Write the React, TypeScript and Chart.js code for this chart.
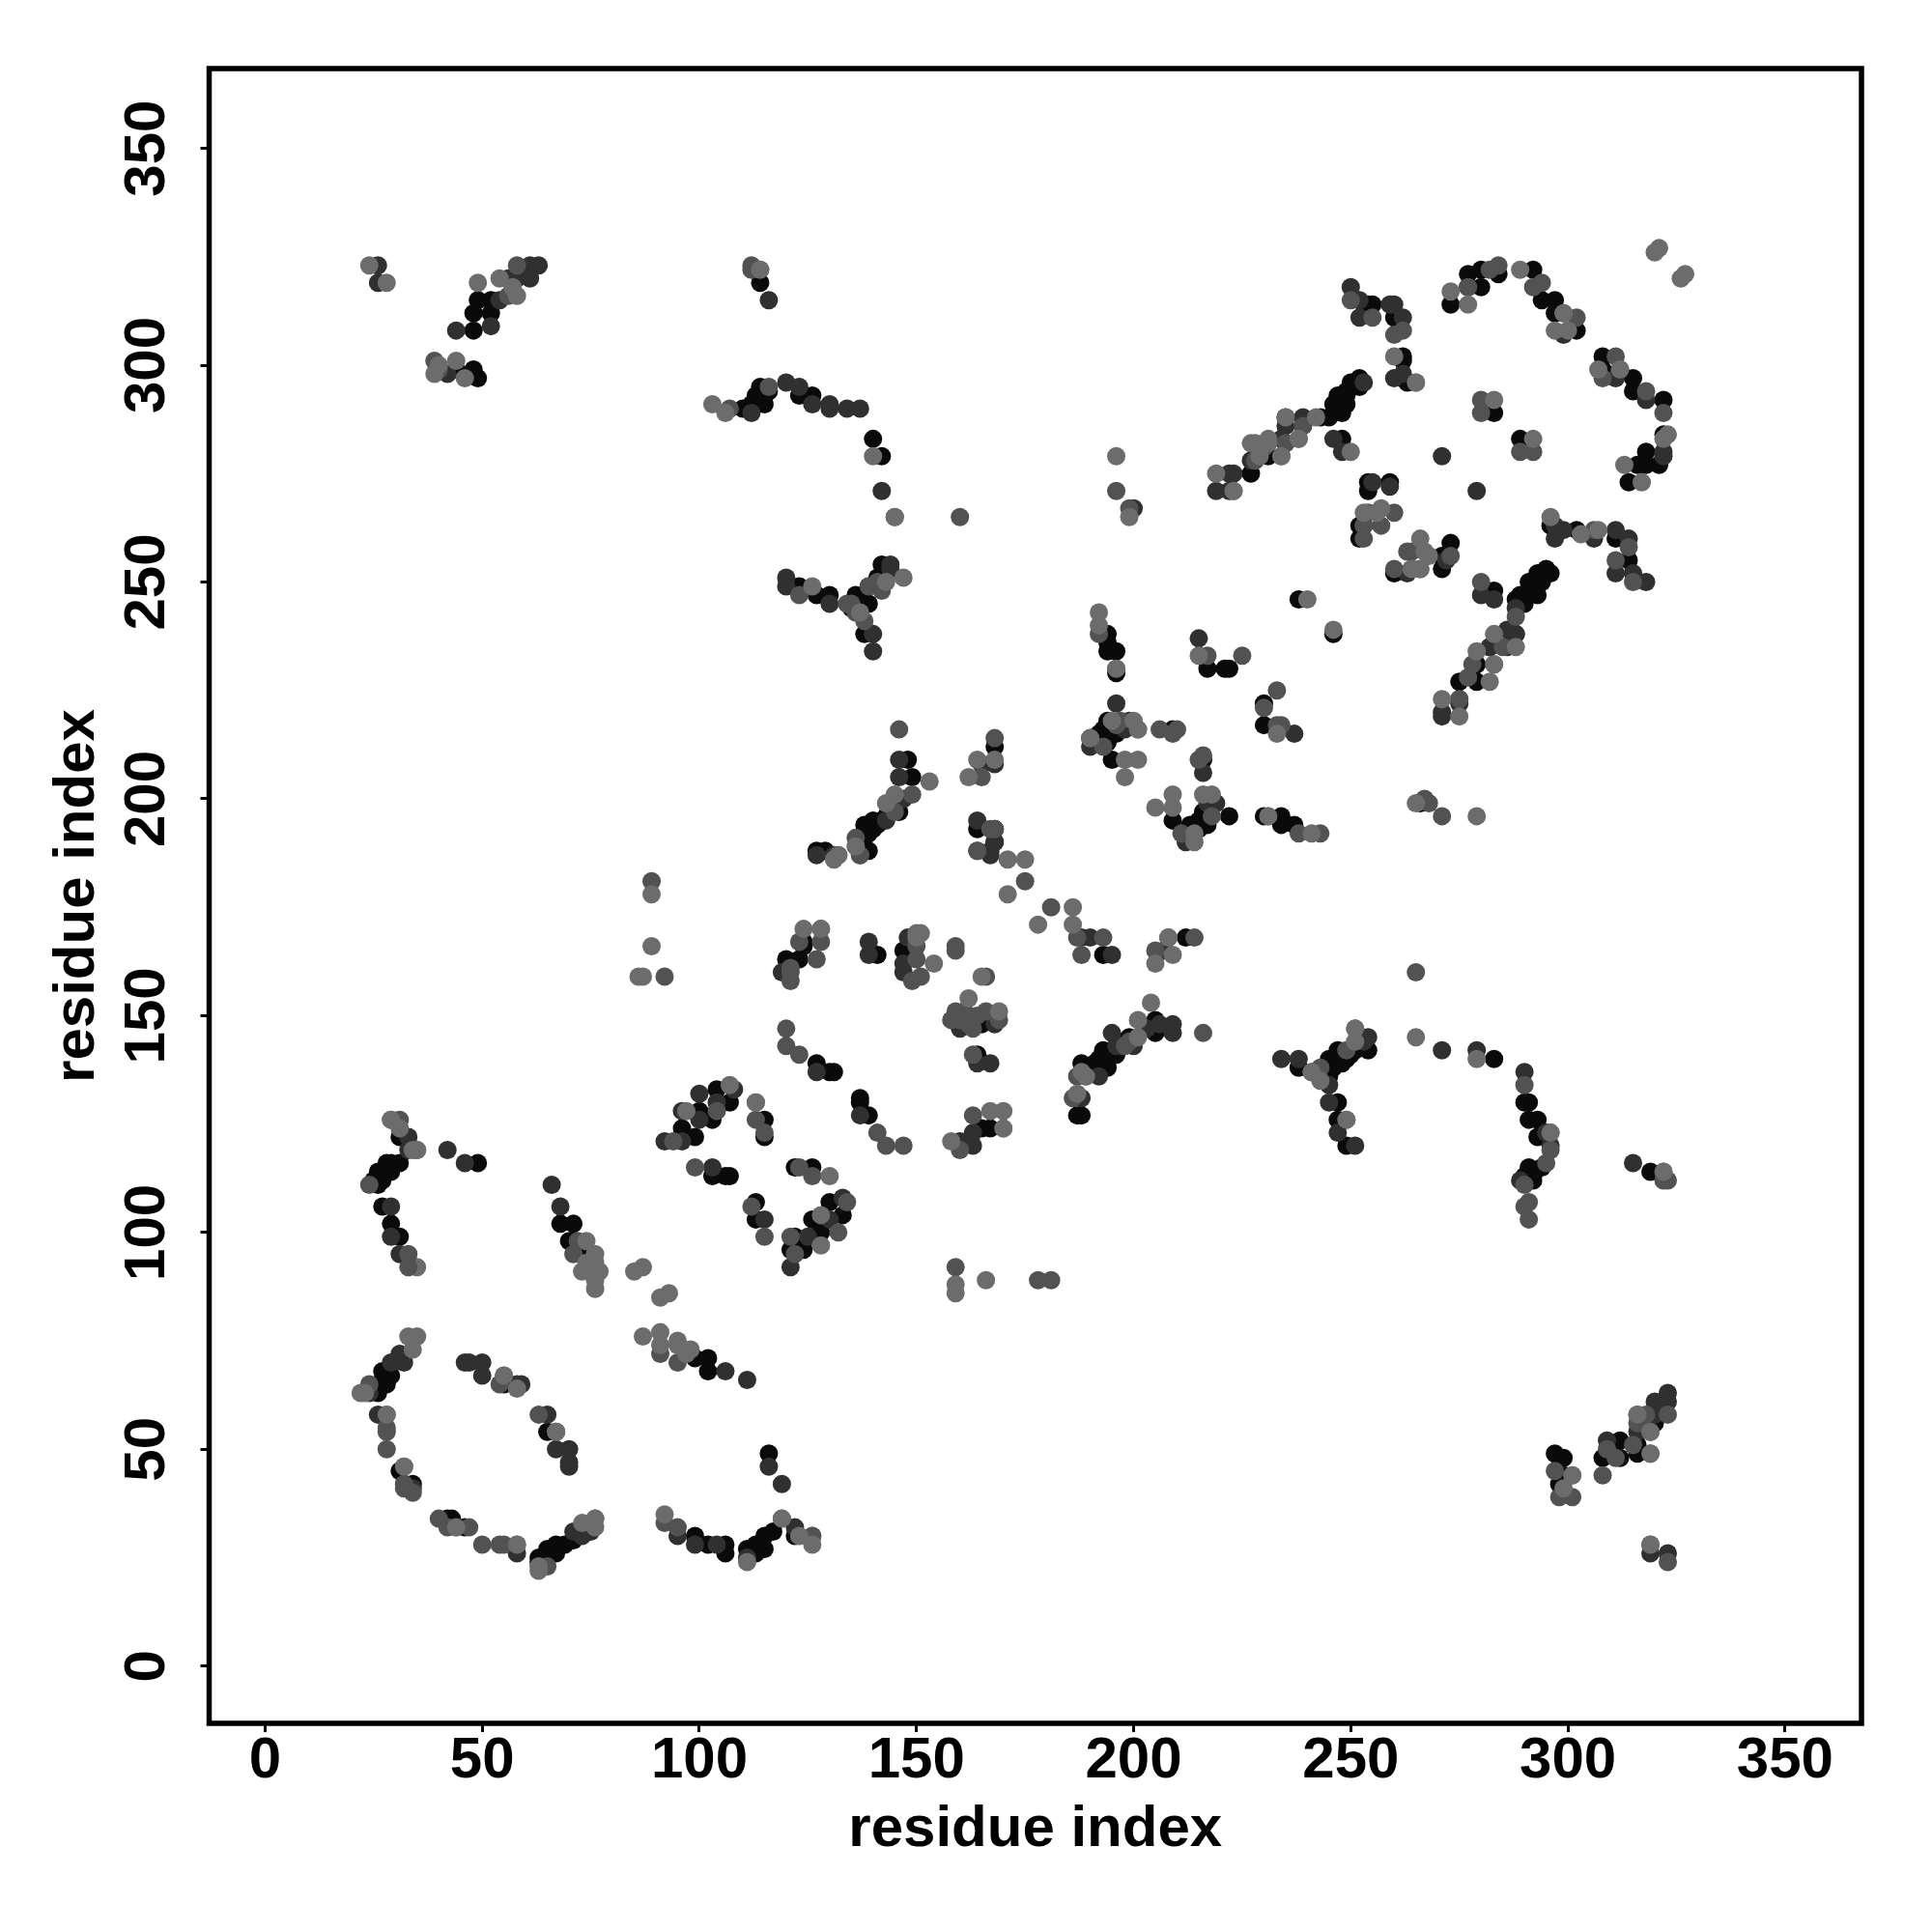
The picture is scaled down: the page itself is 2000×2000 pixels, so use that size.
import React, { useEffect, useRef } from "react";
import { Chart, registerables } from "chart.js";

Chart.register(...registerables);

type P = [number, number];

const tickValues = [0, 50, 100, 150, 200, 250, 300, 350];
const axisTitle = "residue index";

const pointsLight: P[] = [
[29,126],[31,124],[35,119],[34,119],[74,98],[76,95],[73,91],[75,91],[77,91],[76,87],[76,89],[74,93],[76,93],[85,91],[87,92],[91,85],[93,86],
[35,76],[33,76],[34,73],[22,63],[23,63],[32,46],[44,32],[58,28],[63,22],[63,23],[73,33],[76,34],[76,32],[111,24],[92,35],[119,34],[123,30],[126,28],
[87,76],[91,77],[91,74],[95,75],[95,74],[98,73],[97,72],[55,67],[58,64],[67,54],[28,58],
[89,178],[89,166],[86,159],[87,159],[132,187],[131,186],[171,186],[175,186],[171,178],[186,175],[178,171],[186,171],
[124,170],[128,170],[150,169],[151,169],[150,168],[154,162],[165,159],[162,154],[169,151],[187,132],[189,136],[188,137],[167,128],[170,128],[170,124],[158,121],[107,134],[97,128],[113,130],[128,104],[128,97],[130,113],[166,89],[159,88],[159,86],
[192,243],[192,240],[196,279],[199,265],[240,246],[246,239],
[196,230],[215,233],[190,214],[195,218],[200,218],[201,216],[198,209],[201,209],[198,205],[205,198],[209,201],[209,198],[216,201],[218,201],[214,192],[214,190],[231,196],[233,215],[241,192],[265,199],[279,196],[205,162],[209,164],[208,168],[204,153],[201,149],[201,145],[265,145],[279,140],[241,137],[243,135],[251,147],[251,144],[249,126],[296,123],
[271,223],[275,219],[282,227],[283,231],[279,234],[283,238],[288,235],[238,283],[235,288],
[320,326],[321,327],[326,320],[327,321],[265,296],[260,302],[277,314],[289,322],[273,317],[299,312],[297,308],[300,308],[307,299],[312,299],[323,284],[322,283],[313,277],[317,273],[283,292],[292,283],[253,266],[257,267],[256,266],[266,260],[267,257],[266,253],[264,253],[268,256],[296,265],[303,261],[307,262],
[219,275],[223,271],[227,282],[228,282],[231,283],[231,282],[234,279],[242,288],[229,279],
[24,323],[28,319],[49,319],[54,320],[57,318],[58,316],[44,301],[39,298],[40,300],[46,297],[114,322],[103,291],[106,289],[126,249],[145,265],[140,279],[143,250],[147,251],[137,243],
[153,204],[145,201],[143,199],[136,189],[164,209],[168,209],[162,205],
[301,44],[299,41],[319,49],[316,58],[319,54],[319,28],[322,114],[250,280],
];

const pointsMid: P[] = [
[31,126],[33,95],[33,92],[72,98],[71,95],[24,65],[28,54],[28,55],[28,50],[32,42],[34,40],[32,41],[40,34],[42,32],[47,32],[50,28],[54,28],[55,28],[65,23],[92,33],[95,32],[126,30],[91,72],[95,70],[63,58],[67,54],[24,111],[54,65],
[89,181],[92,159],[137,187],[164,188],[168,193],[175,181],[181,175],[123,167],[128,167],[127,163],[121,161],[121,158],[121,160],
[150,166],[150,163],[151,159],[149,158],[159,166],[159,165],[166,159],[159,151],[158,149],[160,149],[161,151],[166,151],[169,149],[162,148],[163,147],[163,141],[120,147],[120,143],[123,141],[141,123],[143,120],[147,120],[163,127],[160,119],[187,136],[186,131],
[94,121],[104,128],[113,126],[115,123],[99,115],[123,115],[126,113],[112,106],[134,107],[132,100],[122,95],[121,99],[115,99],[159,92],[178,89],[181,89],[160,265],[196,271],[199,267],[198,143],[162,150],[164,150],
[192,238],[217,233],[225,233],[233,225],[230,221],[233,217],[234,217],[190,214],[196,217],[197,218],[193,212],[206,216],[210,216],[209,215],[216,210],[215,209],[218,196],[211,192],[238,192],[243,192],[268,199],[267,200],[271,196],[187,168],[193,168],[188,164],[205,165],[208,168],[214,168],[216,146],[199,144],[265,160],[241,137],[243,138],[249,142],[290,134],[296,119],[295,116],[291,107],[290,106],[291,103],[290,111],
[275,223],[285,235],[278,231],[250,315],[255,311],[262,308],[260,307],[277,318],[282,322],[284,323],[292,318],[294,319],[302,311],[311,302],[308,297],[318,294],[322,289],[280,292],[280,289],[289,280],[292,280],[260,266],[254,266],[257,263],[253,260],[263,257],[260,253],[264,257],[273,256],[280,250],[306,262],[314,258],[311,255],[315,250],[288,242],[277,228],
[228,278],[230,281],[235,282],[239,286],[253,263],
[58,323],[56,316],[39,301],[40,299],[112,323],[112,322],[107,290],[116,295],[123,247],[136,243],[134,245],[138,241],[139,249],[141,250],[142,248],[135,245],
[146,216],[149,201],[145,197],[136,191],[137,187],[168,214],[165,205],[164,188],[167,193],
[297,45],[298,39],[301,39],[309,50],[311,48],[308,44],[315,51],[316,56],[318,58],[323,58],[323,24],[322,112],[323,112],
];

const pointsDark: P[] = [
[33,122],[33,119],[42,119],[46,116],[68,106],[66,111],[29,106],[29,99],[31,95],[31,72],[29,70],[32,70],[26,58],[34,41],[58,26],[73,30],[75,31],[71,31],[95,30],[99,28],[104,28],[111,25],[116,46],[119,42],[122,32],[106,68],[111,66],[46,70],[47,70],[50,70],[50,67],[58,65],[59,65],[65,58],[67,50],[70,50],[70,46],[70,47],[24,63],
[127,187],[131,187],[167,188],[168,193],[119,160],[139,167],[139,164],[148,168],[147,162],[147,160],[160,147],[168,148],[164,139],[167,139],[127,137],[137,127],[163,123],[163,120],[160,121],[162,121],[188,131],
[108,133],[100,132],[104,130],[96,128],[100,126],[96,121],[92,121],[103,115],[115,103],[133,108],[130,103],[125,99],[121,92],[200,267],[200,143],[197,143],[203,147],[206,148],
[215,237],[196,222],[190,212],[199,218],[198,216],[216,206],[219,199],[217,199],[212,190],[237,215],[188,168],[190,168],[195,164],[207,165],[209,148],[209,146],[195,146],[196,143],[192,136],[271,142],[279,142],[234,140],[238,140],[253,144],[254,145],[245,134],[245,130],[247,123],[251,120],[290,137],
[271,219],[275,222],[282,235],[288,238],[250,318],[252,315],[252,311],[259,314],[260,314],[262,311],[262,298],[260,297],[299,307],[311,297],[318,292],[322,280],[322,279],[271,279],[279,271],[253,296],[235,286],[239,288],[235,288],[234,283],[246,283],[248,280],[255,273],[259,272],[253,263],[272,255],[263,252],[280,247],[283,246],[297,263],[297,260],[299,262],[306,260],[311,262],[314,260],[311,252],[315,252],[318,250],[288,244],[288,238],[286,239],[286,235],[282,235],[275,223],[271,220],
[219,271],[222,275],[223,275],[222,271],[227,278],[235,282],[239,286],
[26,323],[26,319],[61,323],[63,323],[61,320],[58,320],[56,320],[44,308],[52,309],[54,315],[42,298],[116,315],[112,289],[120,296],[123,295],[126,291],[130,291],[130,290],[134,290],[137,290],[142,271],[120,251],[120,249],[130,245],[140,238],[140,234],[144,254],[144,253],
[146,209],[146,205],[146,200],[143,195],[165,208],[168,208],[164,195],[168,193],[168,190],[167,187],[145,199],[147,200],
[309,52],[316,54],[320,58],[320,61],[323,63],[323,61],[319,26],[323,26],[295,123],[296,120],[289,112],[315,116],
];

const pointsBlack: P[] = [
[31,122],[31,116],[29,116],[28,116],[27,114],[26,114],[29,114],[27,112],[25,112],[26,111],[49,116],[27,106],[29,102],[31,99],[68,102],[71,102],[70,98],[71,98],[73,95],
[27,68],[29,67],[26,65],[27,65],[28,65],[26,63],[34,42],[31,45],[42,34],[43,34],[46,32],[63,25],[63,24],[65,25],[67,26],[65,27],[69,28],[67,28],[71,29],[73,32],[99,30],[102,28],[106,28],[106,26],[111,27],[113,26],[115,27],[113,28],[115,30],[117,31],[116,49],[122,30],[99,71],[102,71],[102,68],[55,65],[65,54],
[127,188],[129,188],[139,188],[168,190],[124,167],[124,166],[123,163],[120,163],[141,164],[147,165],[165,148],[163,148],[164,141],[127,139],[130,137],[131,137],[137,131],[137,130],[139,127],[167,124],[165,124],[188,139],[187,127],[188,127],[104,133],[107,130],[100,128],[103,126],[96,124],[99,122],[115,126],[115,122],[103,113],[106,113],[107,113],[122,115],[126,115],[113,107],[113,103],[130,107],[133,104],[126,103],[128,100],[122,99],[124,96],[121,96],
[190,138],[191,139],[192,140],[193,142],[195,142],[197,144],[238,246],[246,238],
[194,238],[194,236],[194,234],[196,234],[196,229],[217,230],[221,230],[222,230],[230,222],[230,217],[193,214],[193,216],[195,215],[194,218],[195,209],[209,216],[216,209],[209,195],[216,197],[222,196],[215,195],[213,194],[217,194],[212,192],[215,193],[230,196],[234,196],[234,194],[237,194],[266,199],[193,164],[205,146],[205,149],[212,168],[199,145],[193,141],[196,141],[194,141],[194,138],[192,138],[238,138],[245,140],[245,138],[245,136],[247,140],[247,142],[251,142],[254,142],[249,140],[247,130],[247,126],[249,120],[291,130],[290,130],[291,126],[293,126],
[246,138],[248,139],[248,141],[250,141],[252,143],[194,213],[196,215],[192,215],
[254,314],[255,314],[260,311],[262,302],[262,301],[263,296],[273,314],[277,321],[280,322],[277,318],[280,318],[284,321],[292,322],[294,315],[297,315],[297,312],[302,308],[308,302],[308,299],[315,297],[315,294],[322,292],[322,284],[318,280],[318,277],[321,277],[316,277],[314,273],[283,289],[289,283],[252,297],[250,296],[249,294],[252,295],[247,293],[249,293],[246,291],[249,291],[245,288],[248,289],[243,288],[231,279],[227,275],[248,283],[254,273],[259,273],[254,271],[252,260],[252,263],[273,259],[271,256],[271,253],[260,252],[283,248],[296,263],[302,262],[311,260],[314,255],[296,252],[295,253],[293,252],[291,250],[294,250],[289,247],[291,247],[293,247],[288,246],[290,245],[279,231],[279,227],[275,227],
[49,315],[52,315],[48,312],[52,312],[48,308],[48,299],[49,297],[44,299],[114,319],[112,291],[114,295],[114,292],[115,291],[110,290],[111,290],[113,291],[113,293],[115,293],[116,294],[123,293],[126,293],[140,283],[142,279],[123,249],[127,247],[130,247],[138,238],[136,247],[139,249],[141,251],[142,254],[139,245],[137,246],[135,244],
[148,209],[149,205],[146,197],[140,195],[140,193],[138,194],[138,191],[168,212],[164,193],[141,194],[142,195],[143,196],[144,197],[139,192],[137,190],
[297,49],[299,48],[299,44],[298,42],[308,48],[312,52],[312,48],[316,49],[316,51],[320,56],
[293,122],[294,115],[291,115],[292,113],[290,113],[292,112],[319,114],[283,140],
];

const pointsLightTop: P[] = [
[29,126],[35,119],[35,92],[28,58],[32,46],[58,28],[55,67],[67,54],[76,34],[119,34],[126,30],[44,32],[132,187],[76,91],[128,170],[150,168],[196,230],[201,216],[283,231],[296,123],[299,312],[312,299],[189,136],[188,137],[113,130],[170,124],[251,147],[249,126],[214,192],[231,196],[114,322],[145,265],[301,44],[319,49],[316,58],[319,54],[319,28],[322,114],
[266,253],[264,253],[265,296],[238,283],[234,279],[231,282],[223,271],
];

const seriesList: [string, P[]][] = [
  ["#6c6c6c", pointsLight],
  ["#525252", pointsMid],
  ["#303030", pointsDark],
  ["#0a0a0a", pointsBlack],
  ["#6c6c6c", pointsLightTop],
];

const FONT = "'Liberation Sans', Arial, sans-serif";

const boxPlugin = {
  id: "box",
  afterDatasetsDraw(chart: any) {
    const { ctx, chartArea: a } = chart;
    ctx.save();
    ctx.strokeStyle = "#000";
    ctx.lineWidth = 5.5;
    ctx.strokeRect(a.left, a.top, a.right - a.left, a.bottom - a.top);
    ctx.restore();
  },
};

export default function App() {
  const ref = useRef<HTMLCanvasElement>(null);
  useEffect(() => {
    const setTicks = (s: any) => {
      s.ticks = tickValues.map((value) => ({ value }));
    };
    const chart = new Chart(ref.current!, {
      type: "scatter",
      data: {
        datasets: seriesList.map(([color, pts]) => ({
          data: pts.map(([x, y]) => ({ x, y })),
          backgroundColor: color,
          borderWidth: 0,
          pointRadius: 9.5,
          pointHoverRadius: 9.5,
        })),
      },
      options: {
        responsive: false,
        animation: false,
        devicePixelRatio: 1,
        layout: { padding: { left: 0, top: 71, right: 73, bottom: 0 } },
        plugins: { legend: { display: false }, tooltip: { enabled: false } },
        scales: {
          x: {
            type: "linear",
            min: -12.88,
            max: 367.6,
            afterBuildTicks: setTicks,
            afterFit: (s: any) => { s.height = 216; },
            border: { display: false },
            grid: { drawOnChartArea: false, drawTicks: true, tickLength: 9, tickWidth: 3, tickColor: "#000" },
            ticks: { color: "#000", font: { family: FONT, size: 60, weight: "bold" }, padding: -6, maxRotation: 0, minRotation: 0, autoSkip: false, callback: (v: any) => String(v) },
            title: { display: true, text: axisTitle, color: "#000", font: { family: FONT, size: 60, weight: "bold" }, padding: { top: 0, bottom: 70 } },
          },
          y: {
            type: "linear",
            min: -13.2,
            max: 368.4,
            afterBuildTicks: setTicks,
            afterFit: (s: any) => { s.width = 216.5; },
            border: { display: false },
            grid: { drawOnChartArea: false, drawTicks: true, tickLength: 9, tickWidth: 3, tickColor: "#000" },
            ticks: { color: "#000", font: { family: FONT, size: 60, weight: "bold" }, padding: 4, minRotation: 90, maxRotation: 90, crossAlign: "center", autoSkip: false, callback: (v: any) => String(v) },
            title: { display: true, text: axisTitle, color: "#000", font: { family: FONT, size: 60, weight: "bold" }, padding: { top: 44, bottom: 0 } },
          },
        },
      },
      plugins: [boxPlugin],
    } as any);
    return () => chart.destroy();
  }, []);
  return (
    <canvas
      ref={ref}
      width={2000}
      height={2000}
      style={{ position: "absolute", left: 0, top: 0, width: 2000, height: 2000, background: "#fff" }}
    />
  );
}
